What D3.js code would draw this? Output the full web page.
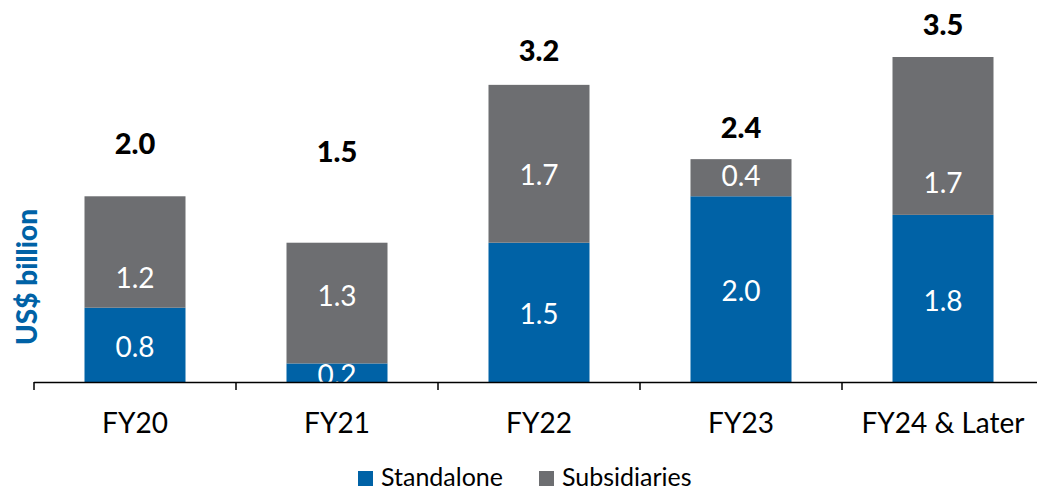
<!DOCTYPE html>
<html>
<head>
<meta charset="utf-8">
<script src="https://cdn.jsdelivr.net/npm/d3@7"></script>
<style>
  body { margin: 0; background: #fff; }
  svg { display: block; font-family: Lato, "Open Sans", sans-serif; }
</style>
</head>
<body>
<div id="chart"></div>
<script>
const categories = ["FY20", "FY21", "FY22", "FY23", "FY24 & Later"];
const standalone = [0.8, 0.2, 1.5, 2.0, 1.8];
const subsidiaries = [1.2, 1.3, 1.7, 0.4, 1.7];
const totals = [2.0, 1.5, 3.2, 2.4, 3.5];
const seriesNames = ["Standalone", "Subsidiaries"];

// label nudges (px) so labels sit where the original put them
const totalGap = [42, 81, 24, 21, 22];
const subsShift = [26, -7, 11, -2, 47];

const width = 1037, height = 491;
const colors = { Standalone: "#0062a6", Subsidiaries: "#6d6e71" };

const svg = d3.select("#chart")
    .append("svg")
    .attr("width", width)
    .attr("height", height)
;

const x = d3.scaleBand()
    .domain(categories)
    .range([34, 1044])
    .paddingInner(0.5)
    .paddingOuter(0.25)
;

const y = d3.scaleLinear()
    .domain([0, 3.5])
    .range([382, 57])
;

const rows = categories.map((c, i) => ({
    cat: c, Standalone: standalone[i], Subsidiaries: subsidiaries[i], i: i
}));
const stacked = d3.stack().keys(seriesNames)(rows);

// bars
svg.append("g")
    .selectAll("g")
    .data(stacked)
    .join("g")
    .attr("fill", d => colors[d.key])
    .selectAll("rect")
    .data(d => d)
    .join("rect")
    .attr("x", d => x(d.data.cat))
    .attr("y", d => y(d[1]))
    .attr("width", x.bandwidth())
    .attr("height", d => y(d[0]) - y(d[1]))
;

// segment labels
svg.append("g")
    .selectAll("g")
    .data(stacked)
    .join("g")
    .selectAll("text")
    .data(d => d.map(v => ({ key: d.key, v: v })))
    .join("text")
    .attr("x", d => x(d.v.data.cat) + x.bandwidth() / 2)
    .attr("y", d => (y(d.v[0]) + y(d.v[1])) / 2 + (d.key === "Subsidiaries" ? subsShift[d.v.data.i] : 2))
    .attr("dy", "0.36em")
    .attr("text-anchor", "middle")
    .attr("fill", "#fff")
    .style("font-size", "28px")
    .text(d => d.v.data[d.key].toFixed(1))
;

// totals on top
svg.append("g")
    .selectAll("text")
    .data(totals)
    .join("text")
    .attr("x", (d, i) => x(categories[i]) + x.bandwidth() / 2)
    .attr("y", (d, i) => y(d) - totalGap[i])
    .attr("text-anchor", "middle")
    .attr("fill", "#000")
    .style("font-size", "29px")
    .style("font-weight", "900")
    .text(d => d.toFixed(1))
;

// x axis: line + ticks at band boundaries
const axisG = svg.append("g");
axisG.append("line")
    .attr("x1", 34).attr("x2", width)
    .attr("y1", y(0) + 0.5).attr("y2", y(0) + 0.5)
    .attr("stroke", "#000")
    .attr("stroke-width", 1.5)
;
axisG.selectAll("line.tick")
    .data(d3.range(categories.length + 1))
    .join("line")
    .attr("class", "tick")
    .attr("x1", i => 34 + i * x.step())
    .attr("x2", i => 34 + i * x.step())
    .attr("y1", y(0))
    .attr("y2", y(0) + 8)
    .attr("stroke", "#000")
    .attr("stroke-width", 1.5)
;
axisG.selectAll("text")
    .data(categories)
    .join("text")
    .attr("x", d => x(d) + x.bandwidth() / 2)
    .attr("y", 433)
    .attr("text-anchor", "middle")
    .attr("fill", "#000")
    .style("font-size", "28px")
    .text(d => d)
;

// y title
svg.append("text")
    .attr("transform", "translate(37,277) rotate(-90)")
    .attr("text-anchor", "middle")
    .attr("fill", "#0062a6")
    .style("font-size", "28px")
    .style("font-weight", "900")
    .text("US$ billion")
;

// legend
const legendX = [358, 539];
const legend = svg.append("g")
    .selectAll("g")
    .data(seriesNames)
    .join("g")
    .attr("transform", (d, i) => `translate(${legendX[i]},471)`)
;
legend.append("rect")
    .attr("width", 15)
    .attr("height", 15)
    .attr("fill", d => colors[d])
;
legend.append("text")
    .attr("x", 23)
    .attr("y", 15)
    .attr("fill", "#000")
    .style("font-size", "25px")
    .text(d => d)
;
</script>
</body>
</html>
